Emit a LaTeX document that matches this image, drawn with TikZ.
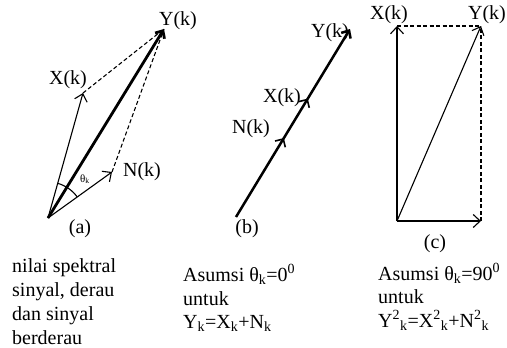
\documentclass[tikz,border=0pt]{standalone}
\usepackage{fontspec}
\setmainfont{Liberation Serif}
\usetikzlibrary{arrows.meta,decorations.markings}
\tikzset{
  barb/.style={-{Straight Barb[length=7pt,width=13pt]}},
  thinvec/.style={line width=1.1pt, barb},
  thickvec/.style={line width=2.8pt, -{Straight Barb[length=6pt,width=11pt]}},
  dashln/.style={line width=1.1pt, dash pattern=on 4pt off 2.5pt},
  lbl/.style={inner sep=0pt, font=\fontsize{20}{24}\selectfont},
  txt/.style={inner sep=0pt, anchor=base west, font=\fontsize{20}{24}\selectfont},
}
\begin{document}
\begin{tikzpicture}[x=1pt,y=-1pt]
\useasboundingbox (0,0) rectangle (507,348);
% ---------- (a)
\coordinate (a0) at (48,218);
\coordinate (aY) at (164,29);
\coordinate (aX) at (83,93);
\coordinate (aN) at (112,172);
\draw[dashln] (aX) -- (aY);
\draw[dashln] (aN) -- (aY);
\draw[thinvec] (a0) -- (aX);
\draw[thinvec] (a0) -- (aN);
\draw[thickvec] (a0) -- (aY);
\draw[line width=1.1pt] ([shift={(-35.7:36)}]a0) arc[start angle=-35.7, end angle=-74.4, radius=36];
\node[lbl] (laX) at (68,80) {X(k)};
\node[lbl] (laY) at (178,21) {Y(k)};
\node[lbl] (laN) at (142,172) {N(k)};
\node[lbl] (la) at (80,229) {(a)};
\node[inner sep=0pt, font=\fontsize{11}{13}\selectfont] (lth) at (85,179) {θ\textsubscript{k}};
% ---------- (b)
\coordinate (b0) at (236,217);
\coordinate (b3) at (350,29);
\draw[thickvec, line width=2.5pt, postaction={decorate},
  decoration={markings,
    mark=at position 0.42 with {\arrow[line width=1.6pt]{Straight Barb[length=6pt,width=12pt]}},
    mark=at position 0.63 with {\arrow[line width=1.6pt]{Straight Barb[length=6pt,width=12pt]}}}]
  (b0) -- (b3);
\node[lbl] (lbY) at (330,33) {Y(k)};
\node[lbl] (lbX) at (282,98) {X(k)};
\node[lbl] (lbN) at (251,129) {N(k)};
\node[lbl] (lb) at (247,229) {(b)};
% ---------- (c)
\coordinate (c0) at (397,221);
\coordinate (cX) at (397,26);
\coordinate (cN) at (481,221);
\coordinate (cY) at (481,26);
\draw[dashln] (cX) -- (cY);
\draw[dashln] (cN) -- (cY);
\draw[thinvec] (c0) -- (cX);
\draw[thinvec] (c0) -- (cN);
\draw[thinvec] (c0) -- (cY);
\node[lbl] (lcX) at (389,15) {X(k)};
\node[lbl] (lcY) at (487,15) {Y(k)};
\node[lbl] (lc) at (435,244) {(c)};
% ---------- texts
\node[txt] (t1) at (12,272) {nilai spektral};
\node[txt] (t2) at (12,296) {sinyal, derau};
\node[txt] (t3) at (12,320) {dan sinyal};
\node[txt] (t4) at (12,344) {berderau};
\node[txt] (m1) at (183,281) {Asumsi θ\textsubscript{k}=0\textsuperscript{0}};
\node[txt] (m2) at (183,305) {untuk};
\node[txt] (m3) at (183,328) {Y\textsubscript{k}=X\textsubscript{k}+N\textsubscript{k}};
\node[txt] (r1) at (378,280) {Asumsi θ\textsubscript{k}=90\textsuperscript{0}};
\node[txt] (r2) at (378,303) {untuk};
\node[txt] (r3) at (378,327) {Y\textsuperscript{2}\textsubscript{k}=X\textsuperscript{2}\textsubscript{k}+N\textsuperscript{2}\textsubscript{k}};
\end{tikzpicture}
\end{document}
